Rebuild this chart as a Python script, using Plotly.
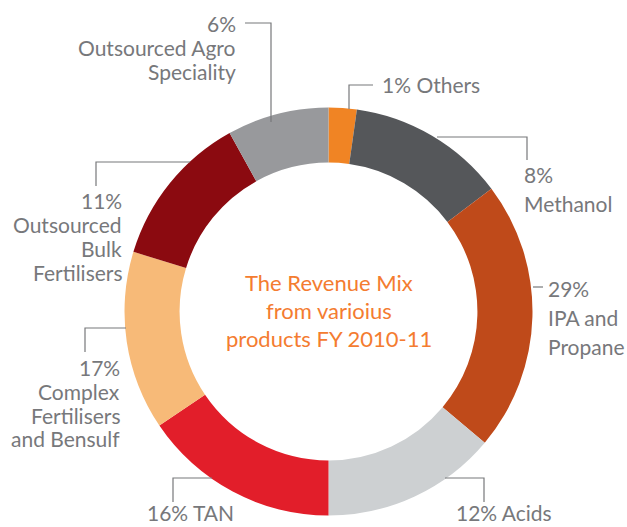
import plotly.graph_objects as go

W, H = 627, 527

# Data
categories = ["Others", "Methanol", "IPA and Propane", "Acids", "TAN",
              "Complex Fertilisers and Bensulf", "Outsourced Bulk Fertilisers",
              "Outsourced Agro Speciality"]
percent_labels = [1, 8, 29, 12, 16, 17, 11, 6]
drawn_arc = [8, 45, 77, 50, 56, 51, 44, 29]
colors = ["#F08424", "#55575A", "#BF4A1A", "#CDD0D2", "#E21E2A",
          "#F7BA78", "#8B0A10", "#98999C"]
center_title = ["The Revenue Mix", "from varioius", "products FY 2010-11"]

GRAY = "#77787B"
FONT = "Lato"

cx, cy, R = 328.5, 311.5, 204


def px(x):
    return x / W


def py(y):
    return 1 - y / H


fig = go.Figure(go.Pie(
    labels=categories, values=drawn_arc, sort=False, direction="clockwise",
    rotation=0, hole=0.73, textinfo="none", hoverinfo="label",
    marker=dict(colors=colors, line=dict(width=0)),
    domain=dict(x=[px(cx - R), px(cx + R)], y=[py(cy + R), py(cy - R)]),
    showlegend=False,
))

annotations = []


def add_text(text, x, y, anchor, color=GRAY, size=21, yanchor="middle"):
    annotations.append(dict(text=text, x=px(x), y=py(y), xref="paper", yref="paper",
                            xanchor=anchor, yanchor=yanchor, showarrow=False,
                            font=dict(family=FONT, size=size, color=color)))


shapes = []


def add_path(points):
    d = "M " + " L ".join(f"{px(x)},{py(y)}" for x, y in points)
    shapes.append(dict(type="path", path=d, xref="paper", yref="paper",
                       line=dict(color=GRAY, width=1.2)))


# Center title
for i, line in enumerate(center_title):
    add_text(line, cx, 282 + 28 * i, "center", color="#F47C30", size=22)

# Agro
add_path([(245, 23), (271, 23), (271, 122)])
add_text(f"{percent_labels[7]}%", 238, 23, "right")
add_text("Outsourced Agro", 238, 48, "right")
add_text("Speciality", 238, 72, "right")

# Others
add_path([(373, 85), (349, 85), (349, 109)])
add_text(f"{percent_labels[0]}% Others", 380, 85, "left")

# Methanol
add_path([(437, 137), (527, 137), (527, 160)])
add_text(f"{percent_labels[1]}%", 522, 175, "left")
add_text("Methanol", 522, 203, "left")

# IPA
add_path([(533, 287), (543, 287)])
add_text(f"{percent_labels[2]}%", 546, 288, "left")
add_text("IPA and", 546, 317, "left")
add_text("Propane", 546, 346, "left")

# Acids
add_path([(445, 478), (484, 478), (484, 502)])
add_text(f"{percent_labels[3]}% Acids", 454, 527, "left", yanchor="bottom")

# TAN
add_path([(212, 478), (173, 478), (173, 502)])
add_text(f"{percent_labels[4]}% TAN", 145, 527, "left", yanchor="bottom")

# Bulk
add_path([(190, 162), (96, 162), (96, 186)])
add_text(f"{percent_labels[6]}%", 124, 200, "right")
add_text("Outsourced", 124, 224, "right")
add_text("Bulk", 124, 248, "right")
add_text("Fertilisers", 124, 272, "right")

# Complex
add_path([(126, 328), (85, 328), (85, 352)])
add_text(f"{percent_labels[5]}%", 122, 367, "right")
add_text("Complex", 122, 391, "right")
add_text("Fertilisers", 122, 415, "right")
add_text("and Bensulf", 122, 438, "right")

fig.update_layout(
    width=W, height=H, margin=dict(l=0, r=0, t=0, b=0),
    paper_bgcolor="white", plot_bgcolor="white",
    annotations=annotations, shapes=shapes,
)

fig.write_html("out.html", config={"displayModeBar": False},
               post_script="document.body.style.margin='0px';document.body.style.overflow='hidden';")
